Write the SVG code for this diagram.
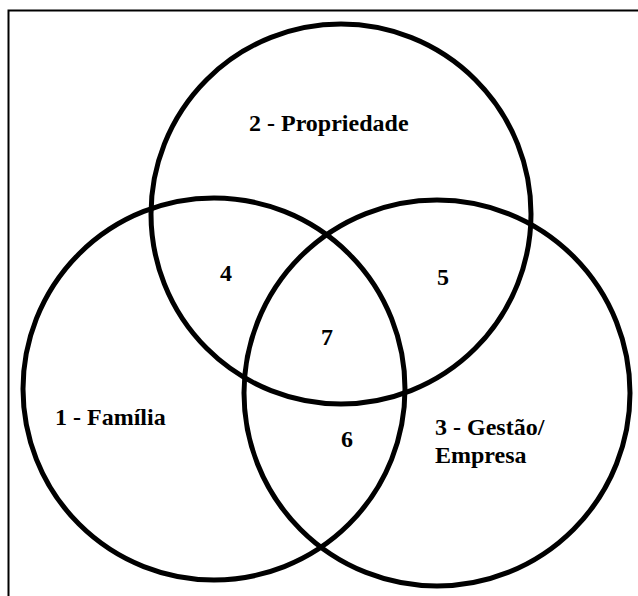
<svg xmlns="http://www.w3.org/2000/svg" width="638" height="596" viewBox="0 0 638 596">
<style>
.c{fill:none;stroke:#000;stroke-width:5}
.t{font-family:'Liberation Serif','DejaVu Serif',serif;font-weight:bold;font-size:24px;fill:#000}
</style>
<rect width="638" height="596" fill="#fff"/>
<path d="M8.5 600V10.5H640" fill="none" stroke="#000" stroke-width="2"/>
<g id="propriedade">
<circle class="c" cx="341" cy="214" r="190"/>
<text class="t" x="249" y="131" font-family="Liberation Serif">2 - Propriedade</text>
</g>
<g id="familia">
<circle class="c" cx="214" cy="389" r="191"/>
<text class="t" x="55" y="425" font-family="Liberation Serif">1 - Família</text>
</g>
<g id="gestao">
<circle class="c" cx="437" cy="393" r="193"/>
<text class="t" x="435" y="435" font-family="Liberation Serif">3 - Gestão/</text>
<text class="t" x="435" y="463" font-family="Liberation Serif">Empresa</text>
</g>
<g id="regions">
<text class="t" x="220" y="281" font-family="Liberation Serif">4</text>
<text class="t" x="437" y="285" font-family="Liberation Serif">5</text>
<text class="t" x="341" y="447" font-family="Liberation Serif">6</text>
<text class="t" x="321" y="345" font-family="Liberation Serif">7</text>
</g>
<g id="connectors"/>
</svg>
